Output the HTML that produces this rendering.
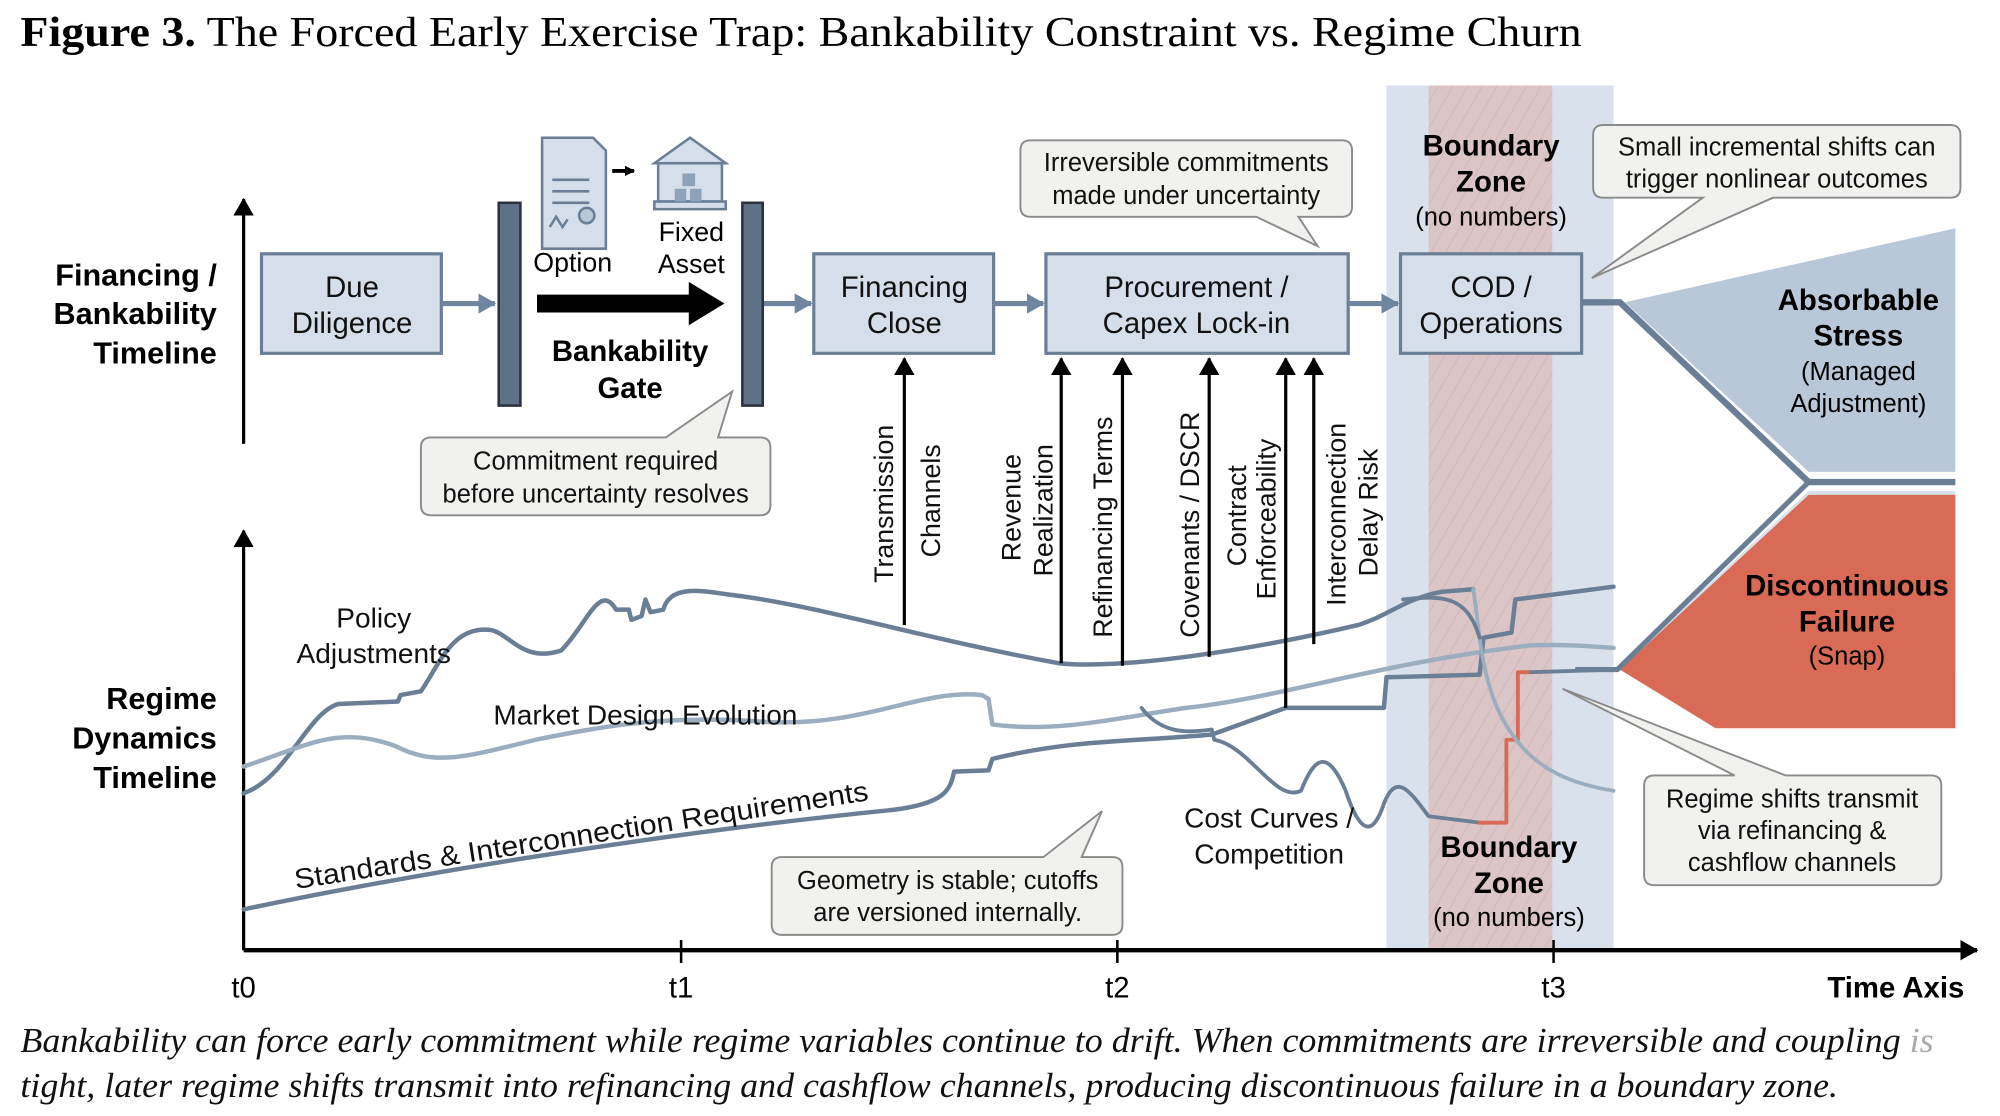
<!DOCTYPE html>
<html><head><meta charset="utf-8"><style>
html,body{margin:0;padding:0;background:#fff;}
svg{display:block;}
.s{font-family:"Liberation Sans",sans-serif;}
.sf{font-family:"Liberation Serif",serif;}
</style></head><body>
<svg width="2000" height="1116" viewBox="0 0 1568 875" preserveAspectRatio="none" xmlns="http://www.w3.org/2000/svg">
<defs>
<marker id="ah" markerWidth="8" markerHeight="8" refX="7" refY="4" orient="auto" markerUnits="userSpaceOnUse"><path d="M0,0 L8,4 L0,8 Z" fill="#000"/></marker>
<marker id="ahb" markerWidth="14" markerHeight="16" refX="13" refY="8" orient="auto" markerUnits="userSpaceOnUse"><path d="M0,0 L14,8 L0,16 Z" fill="#000"/></marker>
<marker id="ahs" markerWidth="14" markerHeight="16" refX="13" refY="8" orient="auto" markerUnits="userSpaceOnUse"><path d="M0,0 L14,8 L0,16 Z" fill="#6f869e"/></marker>
<pattern id="hatch" width="10" height="10" patternUnits="userSpaceOnUse" patternTransform="rotate(30)"><rect width="10" height="10" fill="#dcc2c2"/><line x1="0" y1="0" x2="0" y2="10" stroke="#c9aaaa" stroke-width="1"/></pattern>
</defs>
<rect width="1568" height="875" fill="#fff"/>
<text x="16" y="36" class="sf" font-size="33" textLength="1224" lengthAdjust="spacingAndGlyphs"><tspan font-weight="bold">Figure 3.</tspan> The Forced Early Exercise Trap: Bankability Constraint vs. Regime Churn</text>

<!-- boundary zone -->
<rect x="1087" y="67" width="178" height="678" fill="#d8e1ec"/>
<rect x="1120" y="67" width="97" height="678" fill="url(#hatch)" opacity="0.9"/>

<!-- axes -->
<line x1="191" y1="348" x2="191" y2="156" stroke="#000" stroke-width="2.5" marker-end="url(#ahb)"/>
<line x1="191" y1="745" x2="191" y2="416" stroke="#000" stroke-width="2.5" marker-end="url(#ahb)"/>
<line x1="191" y1="745" x2="1550" y2="745" stroke="#000" stroke-width="3.5" marker-end="url(#ahb)"/>
<g stroke="#000" stroke-width="2"><line x1="534" y1="737" x2="534" y2="755"/><line x1="876" y1="737" x2="876" y2="755"/><line x1="1218" y1="737" x2="1218" y2="755"/></g>
<g class="s" font-size="23" text-anchor="middle"><text x="191" y="782">t0</text><text x="534" y="782">t1</text><text x="876" y="782">t2</text><text x="1218" y="782">t3</text></g>
<text x="1540" y="782" class="s" font-size="23" font-weight="bold" text-anchor="end">Time Axis</text>

<!-- side labels -->
<g class="s" font-size="24" font-weight="bold" text-anchor="end">
<text x="170" y="224">Financing /</text><text x="170" y="254">Bankability</text><text x="170" y="285">Timeline</text>
<text x="170" y="556">Regime</text><text x="170" y="587">Dynamics</text><text x="170" y="618">Timeline</text>
</g>

<!-- boxes -->
<g fill="#d5dfeb" stroke="#6a7f95" stroke-width="2.5">
<rect x="205" y="199" width="141" height="78"/>
<rect x="638" y="199" width="141" height="78"/>
<rect x="820" y="199" width="237" height="78"/>
<rect x="1098" y="199" width="142" height="78"/>
</g>
<g class="s" font-size="23" text-anchor="middle" fill="#111">
<text x="276" y="233">Due</text><text x="276" y="261">Diligence</text>
<text x="709" y="233">Financing</text><text x="709" y="261">Close</text>
<text x="938" y="233">Procurement /</text><text x="938" y="261">Capex Lock-in</text>
<text x="1169" y="233">COD /</text><text x="1169" y="261">Operations</text>
</g>
<g stroke="#6f869e" stroke-width="4">
<line x1="346" y1="238" x2="388" y2="238" marker-end="url(#ahs)"/>
<line x1="598" y1="238" x2="636" y2="238" marker-end="url(#ahs)"/>
<line x1="779" y1="238" x2="818" y2="238" marker-end="url(#ahs)"/>
<line x1="1057" y1="238" x2="1096" y2="238" marker-end="url(#ahs)"/>
</g>
<rect x="391" y="159" width="17" height="159" fill="#5e7186" stroke="#2a3440" stroke-width="2"/>
<rect x="582" y="159" width="16" height="159" fill="#5e7186" stroke="#2a3440" stroke-width="2"/>
<path d="M421,231 L540,231 L540,221 L568,238 L540,255 L540,245 L421,245 Z" fill="#000"/>
<g class="s" font-size="23" font-weight="bold" text-anchor="middle"><text x="494" y="283">Bankability</text><text x="494" y="312">Gate</text></g>
<path d="M425,108 L465,108 L475,118 L475,195 L425,195 Z" fill="#d5dfeb" stroke="#6a7f95" stroke-width="2"/>
<g stroke="#6a7f95" stroke-width="2"><line x1="433" y1="141" x2="462" y2="141"/><line x1="433" y1="150" x2="462" y2="150"/><line x1="433" y1="159" x2="462" y2="159"/></g>
<path d="M431,178 l5,-8 l5,8 l4,-6" stroke="#6a7f95" fill="none" stroke-width="2"/><circle cx="460" cy="169" r="6" fill="#b9c8d9" stroke="#6a7f95" stroke-width="2"/>
<line x1="480" y1="134" x2="497" y2="134" stroke="#000" stroke-width="3" marker-end="url(#ah)"/>
<path d="M513,128 L541,108 L569,128 Z" fill="#d5dfeb" stroke="#6a7f95" stroke-width="2"/>
<rect x="516" y="128" width="50" height="30" fill="#d5dfeb" stroke="#6a7f95" stroke-width="2"/>
<rect x="513" y="158" width="56" height="6" fill="#d5dfeb" stroke="#6a7f95" stroke-width="2"/>
<rect x="535" y="136" width="10" height="10" fill="#8ea2b8"/><rect x="529" y="148" width="9" height="10" fill="#8ea2b8"/><rect x="541" y="148" width="9" height="10" fill="#8ea2b8"/>
<g class="s" font-size="21" text-anchor="middle"><text x="449" y="213">Option</text><text x="542" y="189">Fixed</text><text x="542" y="214">Asset</text></g>

<!-- callouts -->
<g fill="#f1f1ef" stroke="#8a8a8a" stroke-width="1.5">
<path d="M338,343 L522,343 L574,307 L563,343 L596,343 Q604,343 604,351 L604,396 Q604,404 596,404 L338,404 Q330,404 330,396 L330,351 Q330,343 338,343 Z"/>
<path d="M808,110 L1052,110 Q1060,110 1060,118 L1060,162 Q1060,170 1052,170 L1018,170 L1033,193 L985,170 L808,170 Q800,170 800,162 L800,118 Q800,110 808,110 Z"/>
<path d="M1257,98 L1529,98 Q1537,98 1537,106 L1537,147 Q1537,155 1529,155 L1390,155 L1248,218 L1335,155 L1257,155 Q1249,155 1249,147 L1249,106 Q1249,98 1257,98 Z"/>
<path d="M613,672 L818,672 L864,636 L848,672 L872,672 Q880,672 880,680 L880,725 Q880,733 872,733 L613,733 Q605,733 605,725 L605,680 Q605,672 613,672 Z"/>
<path d="M1297,608 L1360,608 L1225,540 L1400,608 L1514,608 Q1522,608 1522,616 L1522,686 Q1522,694 1514,694 L1297,694 Q1289,694 1289,686 L1289,616 Q1289,608 1297,608 Z"/>
</g>
<g class="s" font-size="20" text-anchor="middle" fill="#111">
<text x="467" y="368">Commitment required</text><text x="467" y="394">before uncertainty resolves</text>
<text x="930" y="134">Irreversible commitments</text><text x="930" y="160">made under uncertainty</text>
<text x="1393" y="122">Small incremental shifts can</text><text x="1393" y="147">trigger nonlinear outcomes</text>
<text x="743" y="697">Geometry is stable; cutoffs</text><text x="743" y="722">are versioned internally.</text>
<text x="1405" y="633">Regime shifts transmit</text><text x="1405" y="658">via refinancing &amp;</text><text x="1405" y="683">cashflow channels</text>
</g>

<g class="s" text-anchor="middle">
<text x="1169" y="122" font-size="23" font-weight="bold">Boundary</text><text x="1169" y="150" font-size="23" font-weight="bold">Zone</text><text x="1169" y="177" font-size="20">(no numbers)</text>
<text x="1183" y="672" font-size="23" font-weight="bold">Boundary</text><text x="1183" y="700" font-size="23" font-weight="bold">Zone</text><text x="1183" y="726" font-size="20">(no numbers)</text>
</g>

<!-- outcome shapes -->
<path d="M1268,525 L1418,385 L1533,385 L1533,525 Z" fill="#d8e1ec"/>
<path d="M1274,237 L1533,179 L1533,370 L1418,370 Z" fill="#b9c8d9"/>
<path d="M1270,525 L1418,388 L1533,388 L1533,571 L1345,571 Z" fill="#d96a55"/>
<path d="M1240,237 L1270,237 L1418,378 L1533,378" fill="none" stroke="#6a7f95" stroke-width="5"/>
<path d="M1418,378 L1268,525 L1235,525" fill="none" stroke="#6a7f95" stroke-width="4"/>
<g class="s" text-anchor="middle">
<text x="1457" y="243" font-size="23" font-weight="bold">Absorbable</text><text x="1457" y="271" font-size="23" font-weight="bold">Stress</text>
<text x="1457" y="298" font-size="20">(Managed</text><text x="1457" y="323" font-size="20">Adjustment)</text>
<text x="1448" y="467" font-size="23" font-weight="bold">Discontinuous</text><text x="1448" y="495" font-size="23" font-weight="bold">Failure</text><text x="1448" y="521" font-size="20">(Snap)</text>
</g>

<!-- curves -->
<g fill="none" stroke-linecap="round" stroke-linejoin="round">
<path d="M191,622 C225,610 240,560 265,552 L312,550 L314,545 L330,542 C345,520 355,490 385,494 C400,497 410,520 440,510 C460,490 470,456 483,478 L493,478 L495,486 L503,483 L506,470 L510,480 L520,478 C525,460 545,462 570,466 C640,474 720,500 830,520 C880,525 980,510 1065,490 C1090,482 1100,470 1130,464 L1155,462" stroke="#6a7f95" stroke-width="3.5"/>
<path d="M191,601 C240,585 265,568 310,585 C340,600 360,595 420,580 C470,570 520,560 600,566 C680,570 720,540 770,545 L775,548 L778,568 C830,575 880,562 930,555 C1000,548 1080,520 1200,506 C1230,505 1250,507 1265,508" stroke="#9aaebf" stroke-width="3.5"/>
<path d="M191,713 C300,690 500,655 700,635 C740,630 745,620 748,605 L775,604 L778,595 C840,580 880,582 950,576 L1008,555 L1085,555 L1087,531 L1160,529 L1163,500 L1185,496 L1188,470 L1265,460" stroke="#6a7f95" stroke-width="3.5"/>
<path d="M895,555 C910,575 930,575 950,572 L952,580 C980,585 1000,630 1020,620 C1030,595 1040,585 1055,620 C1065,650 1075,660 1085,630 C1095,605 1105,620 1120,640 L1160,645" stroke="#6a7f95" stroke-width="3"/>
<path d="M1160,645 L1181,645 L1181,580 L1190,580 L1190,527 L1200,527" stroke="#d96a55" stroke-width="3"/>
<path d="M1200,527 L1268,525" stroke="#6a7f95" stroke-width="3"/>
<path d="M1155,462 C1160,490 1160,540 1185,575 C1205,605 1235,615 1265,620" stroke="#9aaebf" stroke-width="3"/>
<path d="M1100,470 C1130,467 1150,466 1160,500" stroke="#6a7f95" stroke-width="3"/>
</g>
<g class="s" font-size="22" fill="#111">
<text x="293" y="492" text-anchor="middle">Policy</text><text x="293" y="520" text-anchor="middle">Adjustments</text>
<text x="506" y="568" text-anchor="middle">Market Design Evolution</text>
<text x="995" y="649" text-anchor="middle">Cost Curves /</text><text x="995" y="677" text-anchor="middle">Competition</text>
<text x="232" y="697" transform="rotate(-8.8 232 697)" textLength="455" lengthAdjust="spacingAndGlyphs">Standards &amp; Interconnection Requirements</text>
</g>

<g stroke="#000" stroke-width="2.5">
<line x1="709" y1="490" x2="709" y2="281" marker-end="url(#ahb)"/>
<line x1="832" y1="520" x2="832" y2="281" marker-end="url(#ahb)"/>
<line x1="880" y1="522" x2="880" y2="281" marker-end="url(#ahb)"/>
<line x1="948" y1="515" x2="948" y2="281" marker-end="url(#ahb)"/>
<line x1="1008" y1="555" x2="1008" y2="281" marker-end="url(#ahb)"/>
<line x1="1030" y1="505" x2="1030" y2="281" marker-end="url(#ahb)"/>
</g>
<g class="s" font-size="21" fill="#111">
<text transform="translate(700,457) rotate(-90)">Transmission</text>
<text transform="translate(737,437) rotate(-90)">Channels</text>
<text transform="translate(800,440) rotate(-90)">Revenue</text>
<text transform="translate(825,452) rotate(-90)">Realization</text>
<text transform="translate(872,500) rotate(-90)">Refinancing Terms</text>
<text transform="translate(940,500) rotate(-90)">Covenants / DSCR</text>
<text transform="translate(977,444) rotate(-90)">Contract</text>
<text transform="translate(1000,470) rotate(-90)">Enforceability</text>
<text transform="translate(1055,475) rotate(-90)">Interconnection</text>
<text transform="translate(1080,452) rotate(-90)">Delay Risk</text>
</g>

<g class="sf" font-size="27" font-style="italic" fill="#111">
<text x="16" y="825" textLength="1500" lengthAdjust="spacingAndGlyphs">Bankability can force early commitment while regime variables continue to drift. When commitments are irreversible and coupling <tspan fill="#aaa">is</tspan></text>
<text x="16" y="860" textLength="1425" lengthAdjust="spacingAndGlyphs">tight, later regime shifts transmit into refinancing and cashflow channels, producing discontinuous failure in a boundary zone.</text>
</g>
</svg>
</body></html>
